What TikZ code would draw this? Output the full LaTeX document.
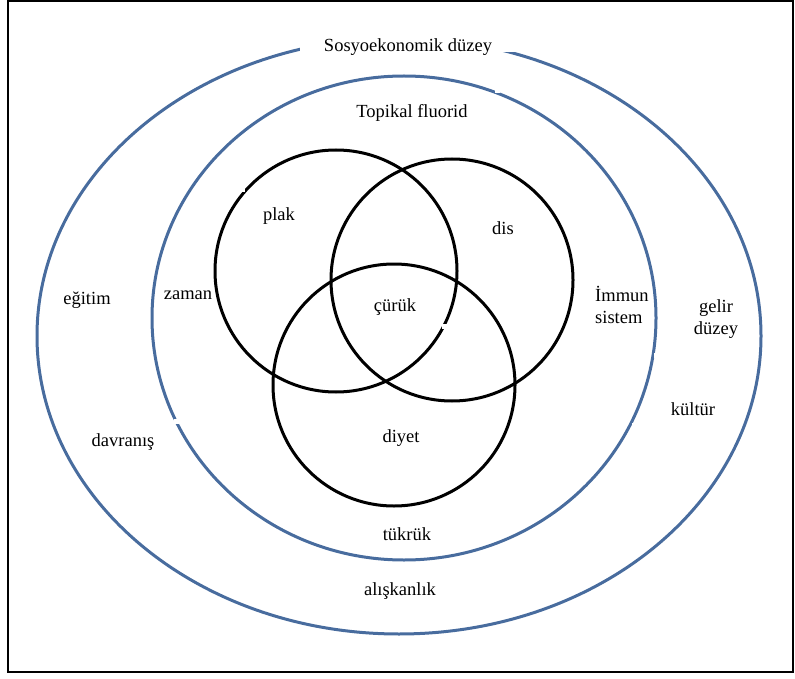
\documentclass[tikz,border=0pt]{standalone}
\usepackage{fontspec}
\setmainfont{Liberation Serif}
\definecolor{ringblue}{RGB}{72,108,158}
\begin{document}
\begin{tikzpicture}[x=1pt,y=-1pt,
  ring/.style={draw=ringblue,line width=3pt},
  venn/.style={draw=black,line width=3pt},
  lbl/.style={font=\fontsize{18.5}{22}\selectfont,inner sep=1pt},
  gap/.style={fill=white,inner sep=0pt,minimum width=#1,minimum height=#1}]
\useasboundingbox (0,0) rectangle (795,679);
\draw[line width=2pt] (8,1) rectangle (793,672);
% rings
\draw[ring] (399,336) ellipse [x radius=362,y radius=298];
\draw[ring] (404,318) ellipse [x radius=252,y radius=242];
% venn circles
\draw[venn] (336,271) circle [radius=121];
\draw[venn] (452,280) circle [radius=121];
\draw[venn] (394,385) circle [radius=121];
% white gaps left by text boxes
\node[fill=white,minimum width=220,minimum height=24,inner sep=0pt] (g0) at (410,40) {};
\node[gap=5] (g1) at (497,91) {};
\node[gap=5] (g2) at (656,269) {};
\node[gap=5] (g3) at (656,355) {};
\node[gap=5] (g4) at (634,425) {};
\node[gap=5] (g5) at (176,421) {};
\node[gap=5] (g6) at (242,190) {};
\node[gap=5] (g7) at (444,326) {};
% labels
\node[lbl] (t1) at (408,47) {Sosyoekonomik düzey};
\node[lbl] (t2) at (412,113) {Topikal fluorid};
\node[lbl] (t3) at (279,216) {plak};
\node[lbl] (t4) at (503,228) {dis};
\node[lbl] (t5) at (87,300) {eğitim};
\node[lbl] (t6) at (188,295) {zaman};
\node[lbl] (t7) at (395,307) {çürük};
\node[lbl,align=left,anchor=west] (t8) at (594,305) {İmmun\\sistem};
\node[lbl,align=center] (t9) at (716,319) {gelir\\düzey};
\node[lbl] (t10) at (693,409) {kültür};
\node[lbl] (t11) at (123,442) {davranış};
\node[lbl] (t12) at (401,438) {diyet};
\node[lbl] (t13) at (407,534) {tükrük};
\node[lbl] (t14) at (400,591) {alışkanlık};
\end{tikzpicture}
\end{document}
